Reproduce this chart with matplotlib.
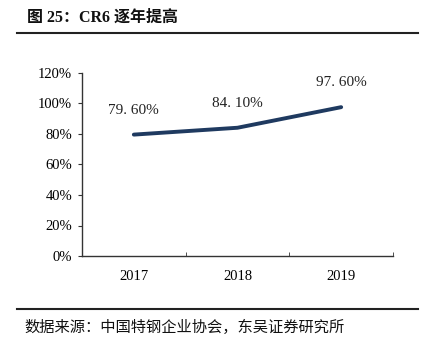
import matplotlib.pyplot as plt
from matplotlib.lines import Line2D
from matplotlib.ticker import FixedLocator

plt.rcParams['font.family'] = ['Liberation Serif', 'Noto Sans CJK SC', 'DejaVu Sans']

# 数据
years = ['2017', '2018', '2019']
cr6 = [79.6, 84.1, 97.6]
labels = ['79. 60%', '84. 10%', '97. 60%']
y_ticks = [0, 20, 40, 60, 80, 100, 120]

fig = plt.figure(figsize=(4.28, 3.47), dpi=100)
ax = fig.add_axes([82 / 428, 1 - 256 / 347, 311 / 428, 183 / 347])

x = list(range(len(years)))
ax.plot(x, cr6, color='#1F3A60', linewidth=2.8, solid_capstyle='round')
for xi, v, t in zip(x, cr6, labels):
    ax.annotate(t, (xi, v), xytext=(0, 13), textcoords='offset points',
                ha='center', va='bottom', fontsize=11, color='#222222')

ax.set_xlim(-0.5, 2.5)
ax.set_ylim(0, 120)
ax.set_yticks(y_ticks)
ax.set_yticklabels([f'{t}%' for t in y_ticks], fontsize=10.5)
ax.set_xticks(x)
ax.set_xticklabels(years, fontsize=10.5)
ax.tick_params(axis='x', length=0, pad=10)
ax.xaxis.set_minor_locator(FixedLocator([0.5, 1.5, 2.5]))
ax.tick_params(axis='x', which='minor', direction='in', length=3, color='#333333')
ax.tick_params(axis='y', direction='out', length=3, color='#333333', pad=4)
for s in ['top', 'right']:
    ax.spines[s].set_visible(False)
for s in ['left', 'bottom']:
    ax.spines[s].set_color('#333333')
    ax.spines[s].set_linewidth(1.0)

# 标题与来源
fig.text(27 / 428, 1 - 18 / 347, '图 25：CR6 逐年提高', fontsize=11.5, fontweight='bold',
         va='center', ha='left', color='#111111',
         family=['Liberation Serif', 'Noto Sans CJK SC'])
fig.add_artist(Line2D([17 / 428, 418 / 428], [1 - 33 / 347, 1 - 33 / 347],
                      color='#222222', linewidth=1.5))
fig.add_artist(Line2D([17 / 428, 418 / 428], [1 - 309 / 347, 1 - 309 / 347],
                      color='#222222', linewidth=1.5))
fig.text(24 / 428, 1 - 327 / 347, '数据来源：中国特钢企业协会，东吴证券研究所', fontsize=11,
         va='center', ha='left', color='#111111',
         family=['Noto Sans CJK SC', 'DejaVu Sans'])

fig.savefig('out.png', dpi=100)
